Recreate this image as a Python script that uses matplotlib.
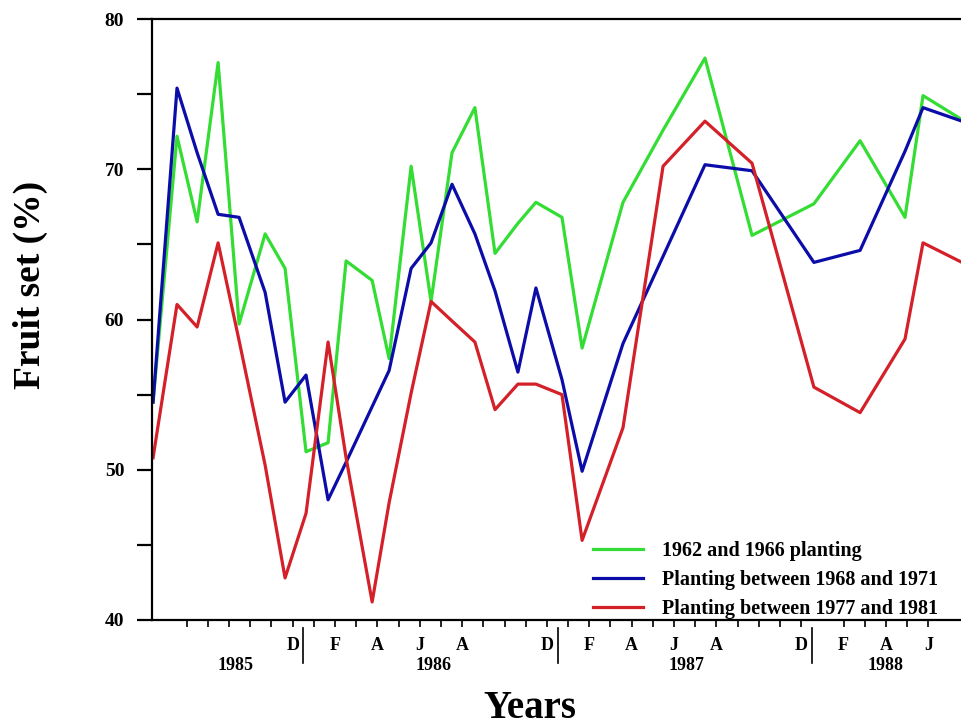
import matplotlib
matplotlib.use('Agg')
import matplotlib.pyplot as plt
import matplotlib.transforms as mtransforms

# sampling dates, in months counted from Jan 1985 (0 = Jan 1985)
months = [4.41, 5.54, 6.49, 7.48, 8.47, 9.70, 10.64, 11.63, 12.67, 13.52,
          14.75, 15.55, 16.59, 17.53, 18.52, 19.60, 20.55, 21.63, 22.48, 23.71,
          24.66, 26.59, 28.48, 30.46, 32.68, 35.60, 37.78, 39.90, 40.75, 42.59]

plant_62_66 = [54.5, 72.2, 66.5, 77.1, 59.7, 65.7, 63.4, 51.2, 51.8, 63.9,
               62.6, 57.4, 70.2, 61.2, 71.1, 74.1, 64.4, 66.4, 67.8, 66.8,
               58.1, 67.8, 72.6, 77.4, 65.6, 67.7, 71.9, 66.8, 74.9, 73.3]
plant_68_71 = [54.5, 75.4, 71.1, 67.0, 66.8, 61.8, 54.5, 56.3, 48.0, 50.5,
               54.2, 56.6, 63.4, 65.1, 69.0, 65.7, 61.9, 56.5, 62.1, 56.0,
               49.9, 58.4, 64.2, 70.3, 69.9, 63.8, 64.6, 71.2, 74.1, 73.2]
plant_77_81 = [50.8, 61.0, 59.5, 65.1, 58.6, 50.3, 42.8, 47.1, 58.5, 50.8,
               41.2, 47.8, 55.1, 61.2, 59.9, 58.5, 54.0, 55.7, 55.7, 55.0,
               45.3, 52.8, 70.2, 73.2, 70.4, 55.5, 53.8, 58.7, 65.1, 63.8]

labels = ['1962 and 1966 planting',
          'Planting between 1968 and 1971',
          'Planting between 1977 and 1981']

month_ticks = [11, 13, 15, 17, 19, 23, 25, 27, 29, 31, 35, 37, 39, 41]
month_names = ['D', 'F', 'A', 'J', 'A', 'D', 'F', 'A', 'J', 'A', 'D', 'F', 'A', 'J']
year_pos = [8.28, 17.63, 29.6, 39.0]
year_names = ['1985', '1986', '1987', '1988']
year_breaks = [11.5, 23.5, 35.5]

plt.rcParams['font.family'] = 'Liberation Serif'
plt.rcParams['font.weight'] = 'bold'

fig = plt.figure(figsize=(9.62, 7.25), dpi=100)
ax = fig.add_axes([152/962, 1 - 620/725, 810/962, 601/725])

ax.plot(months, plant_62_66, color='#33dd33', lw=2.3, label=labels[0])
ax.plot(months, plant_68_71, color='#0c0ca8', lw=2.3, label=labels[1])
ax.plot(months, plant_77_81, color='#d42028', lw=2.3, label=labels[2])

ax.set_xlim(4.36, 42.59)
ax.set_ylim(40, 80)

for s in ['left', 'bottom', 'top']:
    ax.spines[s].set_linewidth(1.6)
ax.spines['right'].set_visible(False)

ax.set_yticks([40, 50, 60, 70, 80])
ax.set_yticks([45, 55, 65, 75], minor=True)
ax.tick_params(axis='y', which='both', length=11, width=1.6, pad=9, labelsize=14)

ax.set_xticks(month_ticks)
ax.set_xticklabels(month_names)
ax.set_xticks([m for m in range(6, 42) if m not in month_ticks and m != 36], minor=True)
ax.tick_params(axis='x', which='both', length=5, width=1.2, pad=7, labelsize=13)

trans = mtransforms.blended_transform_factory(ax.transData, ax.transAxes)
for b in year_breaks:
    ax.plot([b, b], [-0.013, -0.072], color='black', lw=1.2,
            transform=trans, clip_on=False)
for p, y in zip(year_pos, year_names):
    ax.text(p, -0.076, y, transform=trans, ha='center', va='center', fontsize=13)

ax.legend(loc='upper left', bbox_to_anchor=(0.544, 0.132), frameon=False,
          fontsize=14.5, handlelength=2.5, handletextpad=0.95, labelspacing=0.45,
          borderpad=0, borderaxespad=0)

fig.text(530/962, 1 - 708/725, 'Years', ha='center', va='center', fontsize=28)
fig.text(30/962, 1 - 285/725, 'Fruit set (%)', ha='center', va='center',
         fontsize=27, rotation=90)

plt.savefig('out.png', dpi=100)
